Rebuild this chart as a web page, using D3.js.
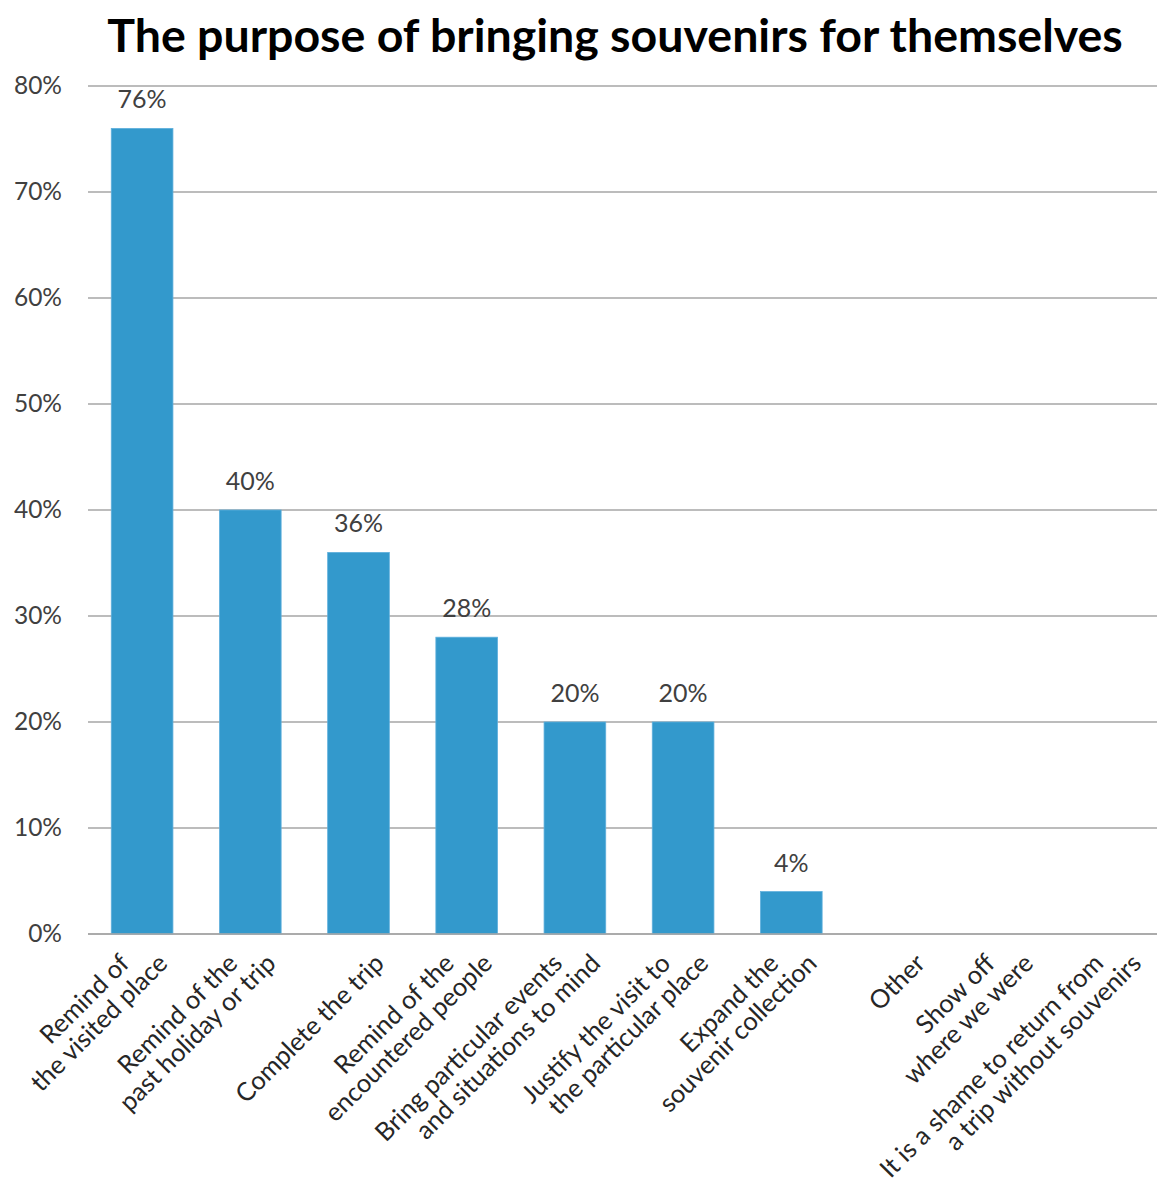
<!DOCTYPE html>
<html>
<head>
<meta charset="utf-8">
<script src="https://cdn.jsdelivr.net/npm/d3@7"></script>
<style>
  body { margin: 0; background: #fff; }
  svg { display: block; font-family: Lato, "Open Sans", sans-serif; }
</style>
</head>
<body>
<div id="chart"></div>
<script>
// データ
const categories = [
  ["Remind of", "the visited place"],
  ["Remind of the", "past holiday or trip"],
  ["Complete the trip"],
  ["Remind of the", "encountered people"],
  ["Bring particular events", "and situations to mind"],
  ["Justify the visit to", "the particular place"],
  ["Expand the", "souvenir collection"],
  ["Other"],
  ["Show off", "where we were"],
  ["It is a shame to return from", "a trip without souvenirs"]
];
const values = [0.76, 0.40, 0.36, 0.28, 0.20, 0.20, 0.04, null, null, null];
const yTicks = [0, 0.1, 0.2, 0.3, 0.4, 0.5, 0.6, 0.7, 0.8];
const title = "The purpose of bringing souvenirs for themselves";

const width = 1157, height = 1178;
const margin = { left: 88, right: -13, top: 86, bottom: 244 };

const svg = d3.select("#chart").append("svg")
  .attr("width", width)
  .attr("height", height);

const keys = categories.map((c, i) => i);

const x = d3.scaleBand()
  .domain(keys)
  .range([margin.left, width - margin.right])
  .paddingInner(0.43)
  .paddingOuter(0.215);

const y = d3.scaleLinear()
  .domain([0, 0.8])
  .range([height - margin.bottom, margin.top]);

// タイトル
svg.append("text")
  .attr("x", 615)
  .attr("y", 52)
  .attr("text-anchor", "middle")
  .attr("font-size", 46.5)
  .attr("font-weight", "bold")
  .attr("fill", "#000")
  .text(title);

// グリッド線
svg.append("g")
  .selectAll("line")
  .data(yTicks)
  .enter()
  .append("line")
  .attr("x1", margin.left)
  .attr("x2", width)
  .attr("y1", d => y(d))
  .attr("y2", d => y(d))
  .attr("stroke", "#a6a6a6")
  .attr("stroke-width", 1.5);

// Y軸ラベル
const yAxis = d3.axisLeft(y)
  .tickValues(yTicks)
  .tickFormat(d3.format(".0%"))
  .tickSize(0)
  .tickPadding(26);

svg.append("g")
  .attr("transform", `translate(${margin.left},0)`)
  .call(yAxis)
  .call(g => g.select(".domain").remove())
  .call(g => g.selectAll("text")
    .attr("font-family", "Lato, sans-serif")
    .attr("font-size", 24.5)
    .attr("fill", "#404040"));

// バー
const barData = keys.filter(i => values[i] != null);

svg.append("g")
  .selectAll("rect")
  .data(barData)
  .enter()
  .append("rect")
  .attr("x", i => x(i))
  .attr("y", i => y(values[i]))
  .attr("width", x.bandwidth())
  .attr("height", i => y(0) - y(values[i]))
  .attr("fill", "#3399cc")
  .attr("stroke", "#5fb0dc")
  .attr("stroke-width", 0.8);

// 値ラベル
svg.append("g")
  .selectAll("text")
  .data(barData)
  .enter()
  .append("text")
  .attr("x", i => x(i) + x.bandwidth() / 2)
  .attr("y", i => y(values[i]) - 20)
  .attr("text-anchor", "middle")
  .attr("font-size", 25)
  .attr("fill", "#404040")
  .text(i => d3.format(".0%")(values[i]));

// 0%の軸線
svg.append("line")
  .attr("x1", margin.left)
  .attr("x2", width)
  .attr("y1", y(0))
  .attr("y2", y(0))
  .attr("stroke", "#a6a6a6")
  .attr("stroke-width", 1.5);

// カテゴリラベル（-45度回転）
// 各行の右端が同じ高さに並ぶように配置
const lineH = 27;
const labelGroups = svg.append("g")
  .selectAll("g")
  .data(keys)
  .enter()
  .append("g")
  .attr("transform", i => `translate(${x(i) + x.bandwidth() / 2 + 27},${y(0) + 31}) rotate(-45)`);

labelGroups.each(function(i) {
  const g = d3.select(this);
  const lines = categories[i];
  lines.forEach((line, k) => {
    const off = (lines.length - 1 - k) * lineH;
    g.append("text")
      .attr("font-size", 25.5)
      .attr("fill", "#262626")
      .attr("text-anchor", "end")
      .attr("x", -off)
      .attr("y", -off)
      .text(line);
  });
});
</script>
</body>
</html>
